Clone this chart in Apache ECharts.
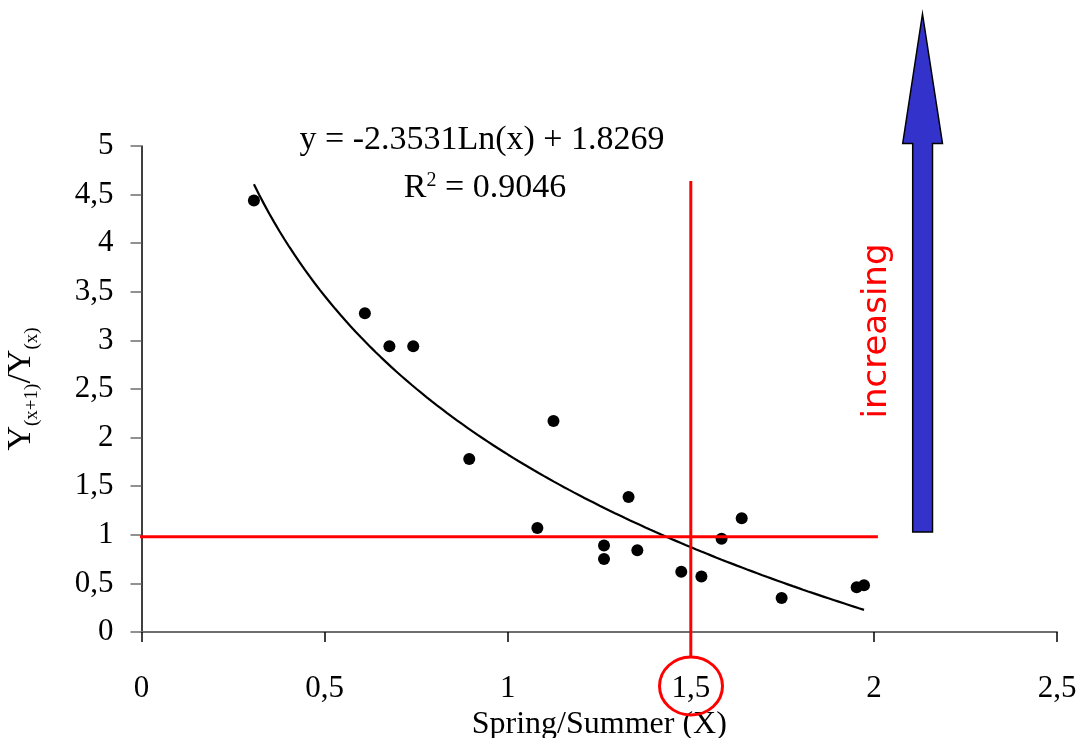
<!DOCTYPE html>
<html>
<head>
<meta charset="utf-8">
<script src="https://cdn.jsdelivr.net/npm/echarts@6/dist/echarts.min.js"></script>
<style>
  html, body { margin: 0; padding: 0; background: #ffffff; }
  #chart { width: 1085px; height: 738px; }
</style>
</head>
<body>
<div id="chart"></div>
<script>
// Observations: spring/summer ratio (x) against next-year ratio Y(x+1)/Y(x)
const springSummer = [0.307, 0.610, 0.677, 0.742, 0.895, 1.081, 1.125, 1.263, 1.263,
                      1.330, 1.354, 1.474, 1.529, 1.584, 1.639, 1.748, 1.953, 1.973];
const yearRatio    = [4.44, 3.28, 2.94, 2.94, 1.78, 1.07, 2.17, 0.89, 0.75,
                      1.39, 0.84, 0.62, 0.57, 0.96, 1.17, 0.35, 0.46, 0.48];

// Logarithmic trendline y = a*Ln(x) + b
const trendSlope = -2.3531;
const trendIntercept = 1.8269;
const trendR2 = 0.9046;

// Tick labels (decimal comma)
const xTickLabels = ['0', '0,5', '1', '1,5', '2', '2,5'];
const yTickLabels = ['0', '0,5', '1', '1,5', '2', '2,5', '3', '3,5', '4', '4,5', '5'];

// Reference lines: break-even ratio and the 1.5 threshold
const breakEvenY = 0.98;
const breakEvenSpan = [-0.042, 2.011];
const thresholdX = 1.5;
const thresholdSpan = [4.64, -0.257];

const serif = '"Times New Roman", "Liberation Serif", serif';

const points = springSummer.map((x, i) => [x, yearRatio[i]]);

// sample the fitted curve across the observed x range
const xMin = Math.min(...springSummer);
const xMax = Math.max(...springSummer);
const trend = [];
const steps = 120;
for (let i = 0; i <= steps; i++) {
  const x = xMin + (xMax - xMin) * i / steps;
  trend.push([x, trendSlope * Math.log(x) + trendIntercept]);
}

const fmt = (v, d) => v.toFixed(d);

const chart = echarts.init(document.getElementById('chart'), null, { renderer: 'canvas' });

chart.setOption({
  backgroundColor: '#ffffff',
  animation: false,
  grid: { left: 141.5, right: 28, top: 146, bottom: 106, containLabel: false, outerBoundsMode: 'none' },
  title: [
    {
      text: 'y = ' + fmt(trendSlope, 4) + 'Ln(x) + ' + fmt(trendIntercept, 4),
      left: 477, top: 118, textAlign: 'center',
      textStyle: { fontFamily: serif, fontSize: 34, fontWeight: 'normal', color: '#000' }
    },
    {
      text: '{m|R}{sup|2}{m| = ' + fmt(trendR2, 4) + '}',
      left: 480, top: 166, textAlign: 'center',
      textStyle: {
        fontWeight: 'normal',
        rich: {
          m: { fontFamily: serif, fontSize: 34, fontWeight: 'normal', lineHeight: 34, color: '#000', verticalAlign: 'bottom', padding: [8, 0, 0, 0] },
          sup: { fontFamily: serif, fontSize: 20, fontWeight: 'normal', lineHeight: 20, color: '#000', verticalAlign: 'top' }
        }
      }
    }
  ],
  xAxis: {
    type: 'value',
    min: 0, max: 2.5, interval: 0.5,
    name: 'Spring/Summer (X)',
    nameLocation: 'middle',
    nameGap: 67,
    nameTextStyle: { fontFamily: serif, fontSize: 32, color: '#000' },
    axisLine: { show: true, onZero: false, lineStyle: { color: '#6e6e6e', width: 2 } },
    axisTick: { show: true, length: 10, lineStyle: { color: '#000', width: 1.5 } },
    axisLabel: {
      margin: 41,
      fontFamily: serif, fontSize: 31, color: '#000',
      formatter: v => xTickLabels[Math.round(v / 0.5)]
    },
    splitLine: { show: false }
  },
  yAxis: {
    type: 'value',
    min: 0, max: 5, interval: 0.5,
    name: '{Y|Y}{s|(x+1)}{Y|/Y}{s|(x)}',
    nameLocation: 'middle',
    nameRotate: 90,
    nameGap: 100,
    nameTextStyle: {
      rich: {
        Y: { fontFamily: serif, fontSize: 34, lineHeight: 34, color: '#000', verticalAlign: 'bottom', padding: [0, 0, 3, 0] },
        s: { fontFamily: serif, fontSize: 19, lineHeight: 19, color: '#000', verticalAlign: 'bottom' }
      }
    },
    axisLine: { show: true, onZero: false, lineStyle: { color: '#000', width: 1.5 } },
    axisTick: { show: true, length: 11, lineStyle: { color: '#6e6e6e', width: 1.5 } },
    axisLabel: {
      margin: 28,
      fontFamily: serif, fontSize: 31, color: '#000',
      formatter: v => yTickLabels[Math.round(v / 0.5)]
    },
    splitLine: { show: false }
  },
  series: [
    {
      name: 'trend',
      type: 'line',
      data: trend,
      showSymbol: false,
      smooth: false,
      lineStyle: { color: '#000', width: 2.2 },
      silent: true,
      z: 3
    },
    {
      name: 'observations',
      type: 'scatter',
      data: points,
      symbol: 'circle',
      symbolSize: 12,
      itemStyle: { color: '#000', opacity: 1 },
      z: 4
    },
    {
      name: 'break-even',
      type: 'line',
      data: [[breakEvenSpan[0], breakEvenY], [breakEvenSpan[1], breakEvenY]],
      showSymbol: false,
      clip: false,
      lineStyle: { color: '#ff0000', width: 3 },
      silent: true,
      z: 5
    },
    {
      name: 'threshold',
      type: 'line',
      data: [[thresholdX, thresholdSpan[0]], [thresholdX, thresholdSpan[1]]],
      showSymbol: false,
      clip: false,
      lineStyle: { color: '#ff0000', width: 3 },
      silent: true,
      z: 5
    }
  ],
  graphic: [
    {
      // ring around the 1,5 tick label
      type: 'ellipse',
      shape: { cx: 691, cy: 686, rx: 31.5, ry: 29 },
      style: { fill: 'none', stroke: '#ff0000', lineWidth: 3 },
      z: 10
    },
    {
      // upward arrow
      type: 'polygon',
      shape: {
        points: [[922.5, 14], [942.5, 143.5], [932.5, 143.5], [932.5, 532],
                 [912.7, 532], [912.7, 143.5], [902.7, 143.5]]
      },
      style: { fill: '#3333cc', stroke: '#000', lineWidth: 1.5 },
      z: 10
    },
    {
      type: 'text',
      x: 877, y: 331,
      rotation: Math.PI / 2,
      style: {
        text: 'increasing',
        fill: '#ff0000',
        font: '34px "Comic Sans MS", "DejaVu Sans", sans-serif',
        align: 'center',
        verticalAlign: 'middle'
      },
      z: 10
    }
  ]
});
</script>
</body>
</html>
